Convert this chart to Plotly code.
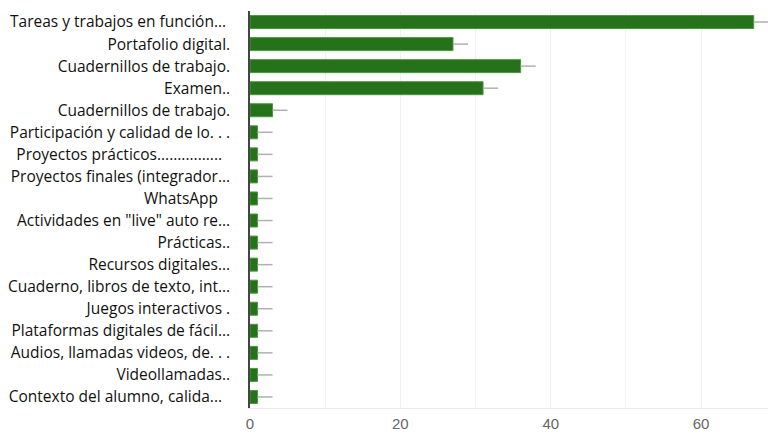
import plotly.graph_objects as go

NB = "\u00a0"
categories = [
    "Tareas y trabajos en función..." + NB,
    "Portafolio digital.",
    "Cuadernillos de trabajo.",
    "Examen..",
    "Cuadernillos de trabajo.\u200b",
    "Participación y calidad de lo. . .",
    "Proyectos prácticos................" + NB * 2,
    "Proyectos finales (integrador...",
    "WhatsApp" + NB * 3,
    "Actividades en \"live\" auto re...",
    "Prácticas..",
    "Recursos digitales...",
    "Cuaderno, libros de texto, int...",
    "Juegos interactivos .",
    "Plataformas digitales de fácil...",
    "Audios, llamadas videos, de. . .",
    "Videollamadas..",
    "Contexto del alumno, calida..." + NB * 2,
]
values = [67, 27, 36, 31, 3, 1, 1, 1, 1, 1, 1, 1, 1, 1, 1, 1, 1, 1]
errors = [2] * 18
x_ticks = [0, 20, 40, 60]

fig = go.Figure(
    go.Bar(
        y=categories,
        x=values,
        orientation="h",
        marker=dict(color="#25721a", line=dict(color="#4a9a3c", width=1)),
        error_x=dict(type="data", symmetric=False, array=errors, arrayminus=[0] * 18,
                     color="#b0b0b0", thickness=1.5, width=0),
    )
)

fig.update_layout(
    width=768,
    height=435,
    margin=dict(l=250, r=0, t=11, b=27),
    plot_bgcolor="white",
    paper_bgcolor="white",
    bargap=0.41,
    showlegend=False,
    font=dict(family="Open Sans", color="#111"),
)
fig.update_yaxes(
    autorange="reversed",
    type="category",
    tickfont=dict(family="Open Sans", size=15.5, color="#111"),
    showline=True,
    linecolor="#444",
    linewidth=1.5,
    ticks="",
    ticklabelstandoff=15,
    showgrid=False,
    automargin=False,
)
fig.update_xaxes(
    range=[0, 68.9],
    tickvals=x_ticks,
    tickfont=dict(family="Liberation Sans", size=15, color="#666"),
    showgrid=True,
    gridcolor="#f0f0f0",
    showline=True,
    linecolor="#ebebeb",
    zeroline=False,
    ticks="",
    ticklabelstandoff=2,
    automargin=False,
    minor=dict(dtick=10, showgrid=True, gridcolor="#f2f2f2"),
)

fig.write_html("out.html")
